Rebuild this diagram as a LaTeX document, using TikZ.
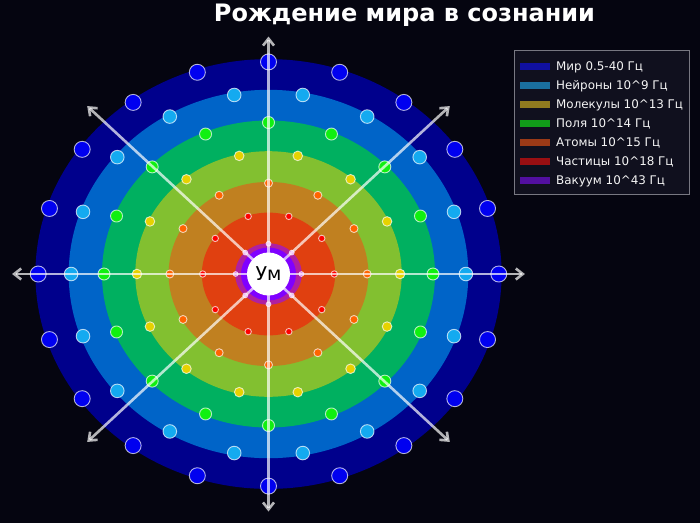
\documentclass[tikz,border=0pt]{standalone}
\usepackage{fontspec}
\setmainfont{DejaVu Sans}
\usetikzlibrary{arrows.meta}
\definecolor{bg}{RGB}{5,5,16}
\definecolor{r7}{RGB}{0,0,140}
\definecolor{r6}{RGB}{0,100,200}
\definecolor{r5}{RGB}{0,176,96}
\definecolor{r4}{RGB}{130,192,48}
\definecolor{r3}{RGB}{192,128,32}
\definecolor{r2}{RGB}{224,64,16}
\definecolor{r1}{RGB}{176,32,160}
\definecolor{vio}{RGB}{128,0,255}
\definecolor{d7}{RGB}{0,0,240}
\definecolor{d6}{RGB}{20,170,240}
\definecolor{d5}{RGB}{16,240,16}
\definecolor{d4}{RGB}{230,210,0}
\definecolor{d3}{RGB}{255,100,0}
\definecolor{d2}{RGB}{255,0,0}
\definecolor{d1}{RGB}{220,120,230}
\definecolor{legbg}{RGB}{16,16,30}
\definecolor{legedge}{RGB}{120,120,130}
\definecolor{l1}{RGB}{16,16,160}
\definecolor{l2}{RGB}{26,111,159}
\definecolor{l3}{RGB}{143,122,31}
\definecolor{l4}{RGB}{17,156,25}
\definecolor{l5}{RGB}{155,58,23}
\definecolor{l6}{RGB}{154,15,18}
\definecolor{l7}{RGB}{82,15,160}
\tikzset{
  dotmark/.style={draw=white, draw opacity=0.7, line width=0.9pt},
  ray/.style={draw=white, draw opacity=0.7, line width=2.6pt, -{Straight Barb[length=7pt,width=11pt]}},
  legtext/.style={anchor=base west, text=white!92!gray, font=\fontsize{11.9}{13}\selectfont, inner sep=0pt},
}
\begin{document}
\begin{tikzpicture}[x=1pt,y=-1pt]
\fill[bg] (0,0) rectangle (700,523);
\useasboundingbox (0,0) rectangle (700,523);
\coordinate (C) at (268.5,274);
% rings
\foreach \k/\col in {7/r7,6/r6,5/r5,4/r4,3/r3,2/r2,1/r1} {
  \pgfmathsetmacro\rx{\k*33.3}
  \pgfmathsetmacro\ry{\k*30.7}
  \fill[\col] (C) ellipse [x radius=\rx pt, y radius=\ry pt];
}
\fill[vio] (C) ellipse [x radius=27.5pt, y radius=26.5pt];
% dots
\foreach \k/\col/\s in {7/d7/8,6/d6/6.8,5/d5/6,4/d4/4.8,3/d3/4,2/d2/3.2,1/d1/2.4} {
  \pgfmathtruncatemacro\n{6+2*\k}
  \foreach \j in {1,...,\n} {
    \pgfmathsetmacro\a{360*\j/\n}
    \pgfmathsetmacro\px{268.5+\k*32.9*cos(\a)}
    \pgfmathsetmacro\py{274-\k*30.3*sin(\a)}
    \filldraw[dotmark, fill=\col] (\px,\py) circle [radius=\s pt];
  }
}
% rays
\foreach \a in {0,45,...,315} {
  \coordinate (e\a) at ({268.5+256.4*cos(\a)},{274-237.5*sin(\a)});
  \draw[ray] (C) -- (e\a);
}
% centre
\fill[white] (C) circle [radius=21.5pt];
\node[anchor=base, font=\fontsize{19}{22}\selectfont, text=black, inner sep=0pt] (um) at (268.5,280.5) {Ум};
% title
\node[anchor=base, font=\bfseries\fontsize{24}{28}\selectfont, text=white, inner sep=0pt] (title) at (404.5,21) {Рождение мира в сознании};
% legend
\node[draw=legedge, line width=0.9pt, fill=legbg, anchor=north west, minimum width=175pt, minimum height=144pt, inner sep=0pt] (leg) at (514,50) {};
\foreach \y/\col/\txt [count=\i] in {66.5/l1/{Мир 0.5-40 Гц},85.5/l2/{Нейроны 10\^{}9 Гц},104.5/l3/{Молекулы 10\^{}13 Гц},123.5/l4/{Поля 10\^{}14 Гц},142.5/l5/{Атомы 10\^{}15 Гц},161.5/l6/{Частицы 10\^{}18 Гц},180.5/l7/{Вакуум 10\^{}43 Гц}} {
  \fill[\col] (520,\y-3.8) rectangle (550,\y+3.8);
  \node[legtext] (lt\i) at (556,\y+4.3) {\txt};
}
\end{tikzpicture}
\end{document}
